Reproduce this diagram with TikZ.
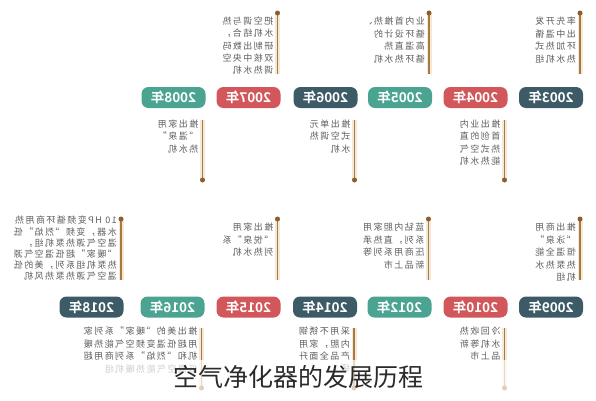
\documentclass[tikz,border=0pt]{standalone}
\usepackage{fontspec}
\setmainfont{Noto Sans CJK SC}[BoldFont={Noto Sans CJK SC Bold}]
\newfontfamily\notefont{Noto Sans CJK SC}[LetterSpace=16]
\definecolor{yearslate}{HTML}{3D5B67}
\definecolor{yearred}{HTML}{D2575A}
\definecolor{yeargreen}{HTML}{4AA491}
\definecolor{stemline}{HTML}{A57A45}
\definecolor{stemdot}{HTML}{8E5C2F}
\definecolor{stemglow}{HTML}{F6E8D6}
\definecolor{notegray}{HTML}{5E5E5E}
\definecolor{titlegray}{HTML}{2A2A2A}

\begin{document}
\begin{tikzpicture}[x=1pt,y=-1pt,
 year/.style={rounded corners=7pt,minimum width=64pt,minimum height=21pt,inner sep=0pt,text=white,font=\bfseries\fontsize{13.5}{14}\selectfont},
 note/.style={anchor=north west,align=left,inner sep=0pt,text=notegray,font=\notefont\fontsize{9}{12.4}\selectfont},
 glow/.style={draw=stemglow,line width=5pt},
 stem/.style={draw=stemline,line width=1.6pt},
 knob/.style={circle,fill=stemdot,inner sep=0pt,minimum size=5pt}]
\fill[white] (0,0) rectangle (596,400);
\useasboundingbox (0,0) rectangle (596,400);
% the whole timeline is printed mirrored
\begin{scope}[shift={(596,0)},xscale=-1,transform shape]
% first row
\node[year,fill=yearslate] (y2003) at (45,97.5) {2003年};
\node[year,fill=yearred] (y2004) at (120.5,97.5) {2004年};
\node[year,fill=yeargreen] (y2005) at (196,97.5) {2005年};
\node[year,fill=yearslate] (y2006) at (270.5,97.5) {2006年};
\node[year,fill=yearred] (y2007) at (347.5,97.5) {2007年};
\node[year,fill=yeargreen] (y2008) at (422.5,97.5) {2008年};
\coordinate (t2003) at (16,13);\coordinate (b2003) at (16,74);
\coordinate (t2004) at (91.5,120);\coordinate (b2004) at (91.5,180);
\coordinate (t2005) at (167,13);\coordinate (b2005) at (167,74);
\coordinate (t2006) at (241.5,120);\coordinate (b2006) at (241.5,180);
\coordinate (t2007) at (318.5,13);\coordinate (b2007) at (318.5,74);
\coordinate (t2008) at (393.5,120);\coordinate (b2008) at (393.5,180);
% second row
\node[year,fill=yearslate] (y2009) at (45,307) {2009年};
\node[year,fill=yearred] (y2010) at (120.5,307) {2010年};
\node[year,fill=yeargreen] (y2012) at (196.5,307) {2012年};
\node[year,fill=yearslate] (y2014) at (271,307) {2014年};
\node[year,fill=yearred] (y2015) at (347.5,307) {2015年};
\node[year,fill=yeargreen] (y2016) at (423.5,307) {2016年};
\node[year,fill=yearslate] (y2018) at (504.5,307) {2018年};
\coordinate (t2009) at (16,219);\coordinate (b2009) at (16,280);
\coordinate (t2010) at (91.5,328);\coordinate (b2010) at (91.5,388);
\coordinate (t2012) at (167.5,219);\coordinate (b2012) at (167.5,280);
\coordinate (t2014) at (242,328);\coordinate (b2014) at (242,388);
\coordinate (t2015) at (318.5,219);\coordinate (b2015) at (318.5,280);
\coordinate (t2016) at (394.5,328);\coordinate (b2016) at (394.5,388);
\coordinate (t2018) at (475,219);\coordinate (b2018) at (475,280);
% stems
\draw[glow] (t2003)--(b2003);\draw[glow] (t2004)--(b2004);\draw[glow] (t2005)--(b2005);
\draw[glow] (t2006)--(b2006);\draw[glow] (t2007)--(b2007);\draw[glow] (t2008)--(b2008);
\draw[glow] (t2009)--(b2009);\draw[glow] (t2010)--(b2010);\draw[glow] (t2012)--(b2012);
\draw[glow] (t2014)--(b2014);\draw[glow] (t2015)--(b2015);\draw[glow] (t2016)--(b2016);
\draw[glow] (t2018)--(b2018);
\draw[stem] (t2003)--(b2003);\draw[stem] (t2004)--(b2004);\draw[stem] (t2005)--(b2005);
\draw[stem] (t2006)--(b2006);\draw[stem] (t2007)--(b2007);\draw[stem] (t2008)--(b2008);
\draw[stem] (t2009)--(b2009);\draw[stem] (t2010)--(b2010);\draw[stem] (t2012)--(b2012);
\draw[stem] (t2014)--(b2014);\draw[stem] (t2015)--(b2015);\draw[stem] (t2016)--(b2016);
\draw[stem] (t2018)--(b2018);
\node[knob] (d2003) at (t2003) {};\node[knob] (d2004) at (b2004) {};
\node[knob] (d2005) at (t2005) {};\node[knob] (d2006) at (b2006) {};
\node[knob] (d2007) at (t2007) {};\node[knob] (d2008) at (b2008) {};
\node[knob] (d2009) at (t2009) {};\node[knob] (d2010) at (b2010) {};
\node[knob] (d2012) at (t2012) {};\node[knob] (d2014) at (b2014) {};
\node[knob] (d2015) at (t2015) {};\node[knob] (d2016) at (b2016) {};
\node[knob] (d2018) at (t2018) {};
% notes
\node[note] (n2003) at (20,17) {率先开发\\出中温循\\环加热式\\热水机组};
\node[note] (n2004) at (95.5,119.5) {推出业内\\首创的直\\热式空气\\能热水机};
\node[note] (n2005) at (171,17) {业内首推热、\\循环设计的\\高温直热\\循环热水机};
\node[note] (n2006) at (245.5,119.5) {推出单元\\式空调热\\水机};
\node[note] (n2007) at (322.5,16.5) {把空调与热\\水机结合，\\研制出数码\\双核中央空\\调热水机};
\node[note] (n2008) at (397.5,119.5) {推出家用\\“温泉”\\热水机};
\node[note] (n2009) at (20,223) {推出商用\\“泳泉”\\恒温全能\\热泵热水\\机组};
\node[note] (n2010) at (95.5,327) {冷回收热\\水机等新\\品上市};
\node[note] (n2012) at (171.5,223) {蓝钻内胆家用\\系列，直热承\\压商用系列等\\新品上市};
\node[note] (n2014) at (246,327) {采用不锈钢\\内胆，家用\\产品全面升\\级};
\node[note] (n2015) at (322.5,223) {推出家用\\“悦泉”系\\列热水机};
\node[note] (n2016) at (398.5,327) {推出美的“暖家”系列家\\用超低温变频空气能热暖\\机和“烈焰”系列商用超\\低温空气能热暖机组};
\node[note,font=\notefont\fontsize{9}{11.2}\selectfont] (n2018) at (479,216) {10 HP变频循环商用热\\水器，变频“烈焰”低\\温空气源热泵机组，\\“暖家”超低温空气源\\热泵机组系列，美的低\\温空气源热泵热风机};
\end{scope}
% title band over the bottom
\fill[white,opacity=0.7] (0,360) rectangle (596,400);
\node[font=\fontsize{25}{25}\selectfont,text=titlegray] (title) at (298,377) {空气净化器的发展历程};
\end{tikzpicture}
\end{document}
